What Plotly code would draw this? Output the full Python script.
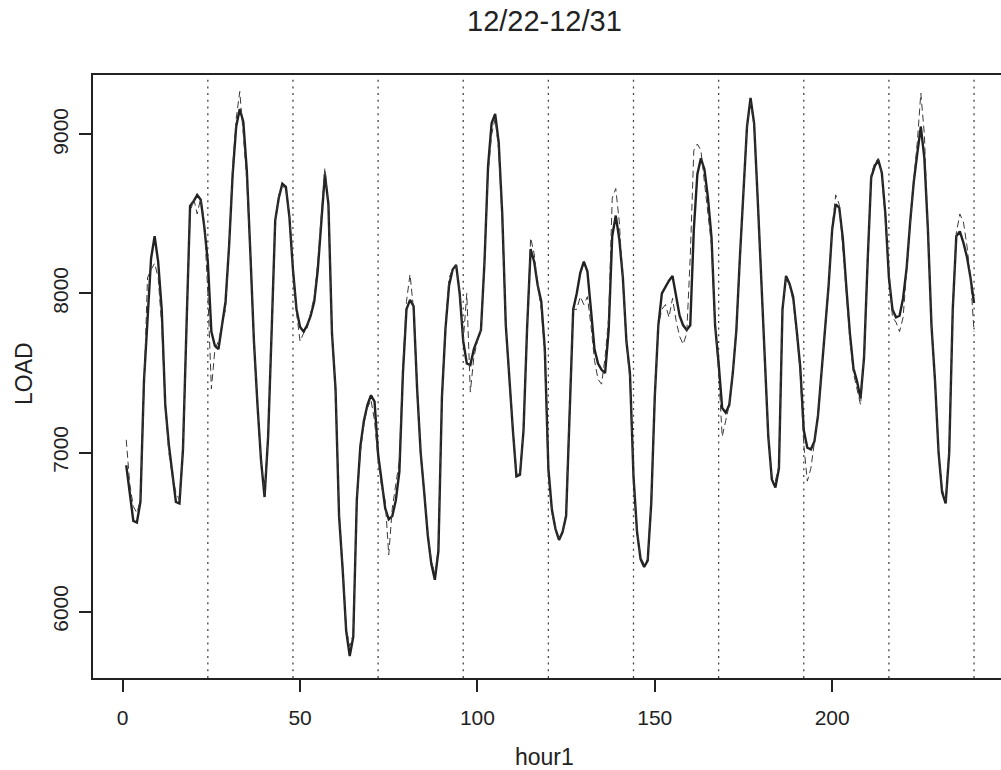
import plotly.graph_objects as go

hours = list(range(1, 241))

actual = [
    6920, 6750, 6570, 6560, 6690, 7450, 7880, 8220, 8360, 8200, 7900, 7300, 7050, 6860, 6690, 6680, 7020, 7800, 8550, 8580, 8620, 8590, 8420, 8200,
    7760, 7670, 7650, 7800, 7950, 8300, 8750, 9050, 9160, 9080, 8770, 8250, 7700, 7300, 6950, 6720, 7100, 7770, 8460, 8600, 8690, 8670, 8480, 8150,
    7900, 7790, 7760, 7800, 7860, 7950, 8150, 8450, 8750, 8560, 7750, 7400, 6600, 6270, 5880, 5720, 5840, 6700, 7040, 7200, 7300, 7360, 7320, 6990,
    6800, 6650, 6580, 6600, 6700, 6880, 7500, 7900, 7960, 7920, 7400, 7000, 6750, 6480, 6300, 6200, 6380, 7350, 7780, 8050, 8150, 8180, 8000, 7700,
    7560, 7550, 7650, 7710, 7770, 8200, 8800, 9070, 9130, 8950, 8500, 7800, 7450, 7140, 6850, 6860, 7140, 7780, 8280, 8200, 8050, 7950, 7650, 6900,
    6640, 6520, 6450, 6500, 6600, 7300, 7900, 8000, 8130, 8200, 8140, 7900, 7650, 7560, 7520, 7500, 7770, 8360, 8490, 8340, 8100, 7700, 7500, 6850,
    6500, 6330, 6280, 6320, 6680, 7350, 7800, 8000, 8040, 8080, 8110, 7980, 7860, 7800, 7770, 7800, 8400, 8750, 8850, 8780, 8600, 8350, 7800, 7560,
    7280, 7250, 7300, 7500, 7770, 8230, 8650, 9050, 9230, 9070, 8600, 8050, 7600, 7100, 6830, 6780, 6900, 7900, 8110, 8060, 7980, 7770, 7540, 7140,
    7030, 7020, 7070, 7230, 7500, 7770, 8050, 8400, 8560, 8540, 8350, 8040, 7750, 7530, 7450, 7340, 7600, 8200, 8730, 8800, 8840, 8760, 8500, 8100,
    7900, 7850, 7860, 7970, 8160, 8450, 8700, 8880, 9050, 8850, 8400, 7800, 7450, 7000, 6750, 6680, 7000, 7900, 8360, 8390, 8320, 8230, 8100, 7940,
]

forecast = [
    7080, 6800, 6660, 6620, 6700, 7400, 8100, 8150, 8190, 8100, 7800, 7300, 7000, 6850, 6750, 6700, 7000, 7800, 8500, 8600, 8500, 8600, 8450, 8000,
    7400, 7650, 7700, 7800, 7900, 8300, 8800, 9100, 9270, 9000, 8700, 8250, 7700, 7300, 6950, 6740, 7100, 7770, 8450, 8620, 8680, 8650, 8500, 8150,
    7880, 7700, 7750, 7780, 7880, 7980, 8200, 8500, 8790, 8550, 7750, 7400, 6620, 6300, 5900, 5780, 5860, 6700, 7000, 7180, 7280, 7330, 7200, 6950,
    6780, 6700, 6356, 6650, 6800, 6950, 7550, 7950, 8120, 7900, 7400, 7000, 6750, 6500, 6320, 6240, 6400, 7350, 7800, 8100, 8150, 8180, 8000, 7700,
    8000, 7380, 7600, 7700, 7770, 8200, 8750, 9000, 9100, 8900, 8450, 7800, 7450, 7150, 6860, 6870, 7150, 7780, 8350, 8250, 8050, 7900, 7600, 6850,
    6620, 6520, 6460, 6500, 6620, 7300, 7900, 7900, 7980, 7930, 7980, 7800, 7580, 7460, 7430, 7600, 7850, 8600, 8660, 8450, 8100, 7700, 7450, 6850,
    6500, 6340, 6300, 6330, 6700, 7350, 7800, 7900, 7930, 7850, 7970, 7830, 7730, 7680, 7750, 8230, 8900, 8940, 8900, 8680, 8500, 8300, 7800, 7500,
    7100, 7200, 7300, 7500, 7770, 8230, 8650, 9050, 9200, 9050, 8600, 8050, 7600, 7100, 6850, 6820, 6920, 7900, 8100, 8050, 7950, 7750, 7500, 7050,
    6820, 6900, 7050, 7230, 7500, 7770, 8050, 8420, 8620, 8560, 8300, 8000, 7700, 7500, 7400, 7300, 7600, 8200, 8750, 8820, 8850, 8750, 8450, 8100,
    7850, 7820, 7760, 7850, 8150, 8450, 8720, 8950, 9260, 9000, 8400, 7800, 7450, 7000, 6770, 6700, 7020, 7900, 8380, 8500, 8450, 8300, 8100, 7760,
]

day_bounds = [24, 48, 72, 96, 120, 144, 168, 192, 216, 240]
x_ticks = [0, 50, 100, 150, 200]
y_ticks = [6000, 7000, 8000, 9000]

title_text = "12/22-12/31"
x_title = "hour1"
y_title = "LOAD"

FONT = "Liberation Sans, Arial, Helvetica, sans-serif"
INK = "#222222"

fig = go.Figure()
fig.add_trace(go.Scatter(x=hours, y=actual, mode="lines",
                         line=dict(color=INK, width=2.4), showlegend=False))
fig.add_trace(go.Scatter(x=hours, y=forecast, mode="lines",
                         line=dict(color="#3a3a3a", width=1, dash="7px,4px"), showlegend=False))

for b in day_bounds:
    fig.add_shape(type="line", xref="x", yref="paper", x0=b, x1=b, y0=0, y1=1,
                  line=dict(color="#444444", width=1.3, dash="2px,4.7px"), layer="below")

L, R, T, B = 93, 1001, 75, 678
W, H = 1001, 770

fig.update_layout(
    width=W, height=H,
    margin=dict(l=L, r=W - R, t=T, b=H - B, pad=0),
    plot_bgcolor="white", paper_bgcolor="white",
    font=dict(family=FONT, color=INK, size=21),
    showlegend=False,
)

fig.update_xaxes(
    range=[-8.37, 247.6], tickmode="array", tickvals=x_ticks,
    ticks="outside", ticklen=12, tickwidth=1.5, tickcolor=INK,
    showline=True, linewidth=2, linecolor=INK, mirror=True,
    showgrid=False, zeroline=False, ticklabelstandoff=8,
    tickfont=dict(size=21, family=FONT, color=INK),
)
fig.update_yaxes(
    range=[5582, 9374], tickmode="array", tickvals=y_ticks,
    ticks="outside", ticklen=12, tickwidth=1.5, tickcolor=INK,
    showline=True, linewidth=2, linecolor=INK, mirror=False,
    showgrid=False, zeroline=False, tickangle=-90, ticklabelstandoff=3,
    tickfont=dict(size=21, family=FONT, color=INK),
)

def px_x(px):
    return (px - L) / (R - L)

def px_y(py):
    return (B - py) / (B - T)

fig.add_annotation(text=title_text, xref="paper", yref="paper",
                   x=px_x(544), y=px_y(21), showarrow=False,
                   font=dict(size=29, family=FONT, color=INK), xanchor="center", yanchor="middle")
fig.add_annotation(text=x_title, xref="paper", yref="paper",
                   x=px_x(544), y=px_y(757), showarrow=False,
                   font=dict(size=23, family=FONT, color=INK), xanchor="center", yanchor="middle")
fig.add_annotation(text=y_title, xref="paper", yref="paper",
                   x=px_x(24), y=px_y(374), showarrow=False, textangle=-90,
                   font=dict(size=23, family=FONT, color=INK), xanchor="center", yanchor="middle")

fig.write_html("out.html")
